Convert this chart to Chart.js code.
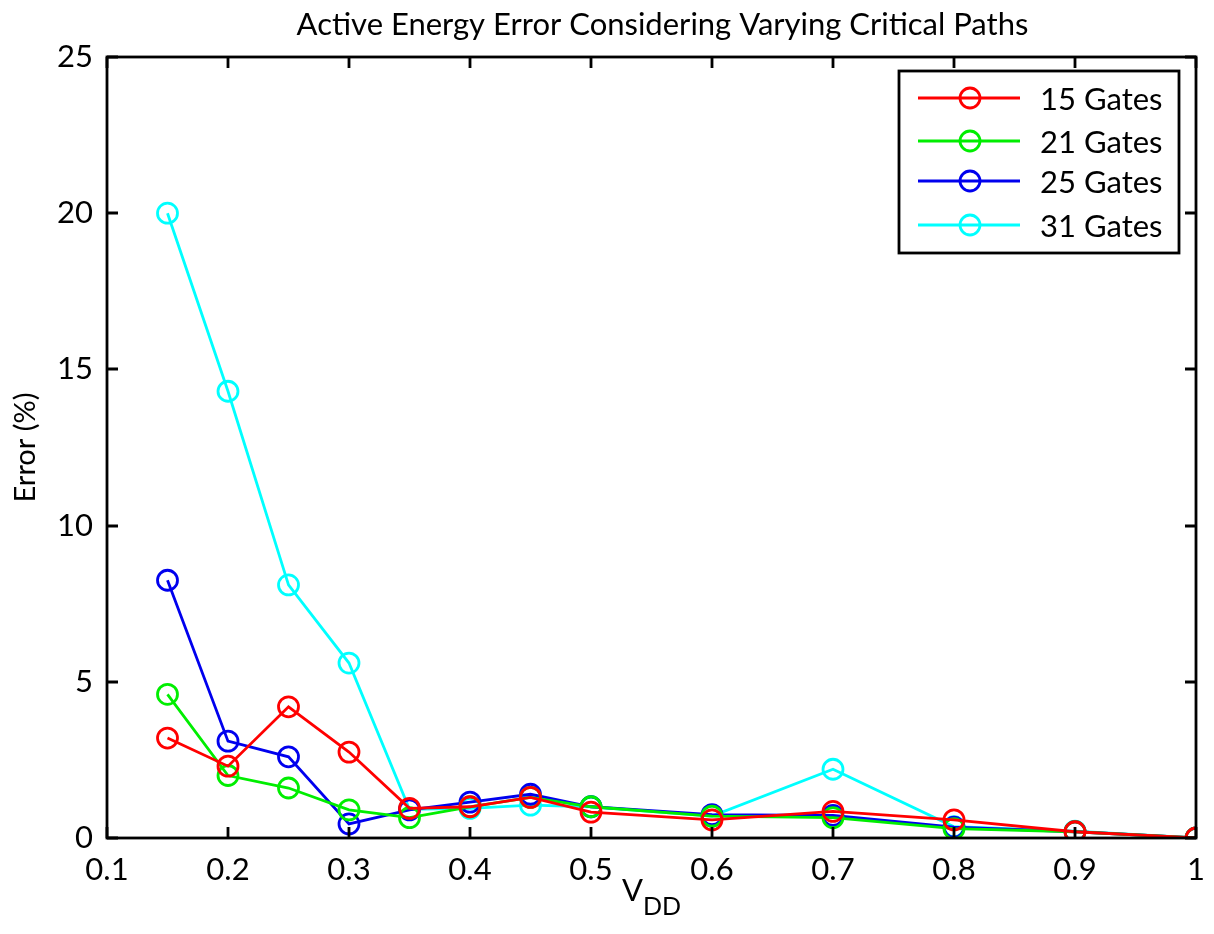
<!DOCTYPE html>
<html>
<head>
<meta charset="utf-8">
<script src="https://cdn.jsdelivr.net/npm/chart.js@4/dist/chart.umd.min.js"></script>
<style>
  html, body { margin: 0; padding: 0; background: #fff; }
  #wrap { width: 1214px; height: 934px; }
</style>
</head>
<body>
<div id="wrap"><canvas id="chart" width="1214" height="934"></canvas></div>
<script>
const vdd = [0.15, 0.2, 0.25, 0.3, 0.35, 0.4, 0.45, 0.5, 0.6, 0.7, 0.8, 0.9, 1.0];
const gates15 = [3.2, 2.3, 4.2, 2.75, 0.95, 1.0, 1.3, 0.83, 0.58, 0.85, 0.58, 0.2, 0];
const gates21 = [4.6, 2.0, 1.6, 0.9, 0.65, 1.0, 1.3, 1.0, 0.7, 0.65, 0.3, 0.2, 0];
const gates25 = [8.25, 3.1, 2.6, 0.45, 0.9, 1.15, 1.4, 1.0, 0.75, 0.72, 0.35, 0.2, 0];
const gates31 = [20.0, 14.3, 8.1, 5.6, 0.92, 0.95, 1.05, 1.0, 0.7, 2.2, 0.36, 0.22, 0];
const seriesNames = ['15 Gates', '21 Gates', '25 Gates', '31 Gates'];
const seriesColors = ['#ff0000', '#00ee00', '#0000ee', '#00ffff'];
const xTicks = { min: 0.1, max: 1, step: 0.1 };
const yTicks = { min: 0, max: 25, step: 5 };

const FONT = 'Lato, "Open Sans", sans-serif';

function pts(ys) { return vdd.map((x, i) => ({ x: x, y: ys[i] })); }

const datasets = [gates15, gates21, gates25, gates31].map((ys, i) => ({
  label: seriesNames[i],
  data: pts(ys),
  borderColor: seriesColors[i],
  backgroundColor: 'rgba(0,0,0,0)',
  borderWidth: 2.8,
  pointRadius: 10,
  pointHoverRadius: 10,
  pointBorderWidth: 2.8,
  pointBackgroundColor: 'rgba(0,0,0,0)',
  tension: 0
}));

// box, inward ticks, titles and legend in MATLAB style
const matlabFrame = {
  id: 'matlabFrame',
  afterDraw(chart) {
    const { ctx, chartArea: a, scales } = chart;
    const xs = scales.x, ys = scales.y;
    ctx.save();
    ctx.strokeStyle = '#000';
    ctx.lineWidth = 2.8;
    ctx.strokeRect(a.left, a.top, a.right - a.left, a.bottom - a.top);
    ctx.beginPath();
    xs.ticks.forEach(t => {
      const px = Math.round(xs.getPixelForValue(t.value));
      ctx.moveTo(px, a.bottom); ctx.lineTo(px, a.bottom - 11);
      ctx.moveTo(px, a.top); ctx.lineTo(px, a.top + 11);
    });
    ys.ticks.forEach(t => {
      const py = Math.round(ys.getPixelForValue(t.value));
      ctx.moveTo(a.left, py); ctx.lineTo(a.left + 11, py);
      ctx.moveTo(a.right, py); ctx.lineTo(a.right - 11, py);
    });
    ctx.stroke();

    ctx.fillStyle = '#000';
    ctx.textAlign = 'center';
    ctx.textBaseline = 'middle';
    ctx.font = '31px ' + FONT;
    ctx.fillText('Active Energy Error Considering Varying Critical Paths', (a.left + a.right) / 2 + 11, 25);

    // x axis title with subscript
    const cx = (a.left + a.right) / 2;
    ctx.font = '31px ' + FONT;
    const wV = ctx.measureText('V').width;
    ctx.font = '25px ' + FONT;
    const wDD = ctx.measureText('DD').width;
    const sx = cx - (wV + wDD) / 2;
    ctx.textAlign = 'left';
    ctx.font = '31px ' + FONT;
    ctx.fillText('V', sx, 891);
    ctx.font = '25px ' + FONT;
    ctx.fillText('DD', sx + wV, 907);

    // y axis title
    ctx.save();
    ctx.translate(26, (a.top + a.bottom) / 2);
    ctx.rotate(-Math.PI / 2);
    ctx.textAlign = 'center';
    ctx.font = '29px ' + FONT;
    ctx.fillText('Error (%)', 0, 0);
    ctx.restore();

    // legend
    const lx = 899, ly = 71, lw = 280, lh = 182;
    ctx.fillStyle = '#fff';
    ctx.fillRect(lx, ly, lw, lh);
    ctx.lineWidth = 2.8;
    ctx.strokeStyle = '#000';
    ctx.strokeRect(lx, ly, lw, lh);
    const rows = [98, 141, 181, 225];
    chart.data.datasets.forEach((d, i) => {
      const y = rows[i];
      ctx.strokeStyle = d.borderColor;
      ctx.lineWidth = 2.8;
      ctx.beginPath();
      ctx.moveTo(918, y); ctx.lineTo(1020, y);
      ctx.stroke();
      ctx.beginPath();
      ctx.arc(970, y, 10, 0, Math.PI * 2);
      ctx.stroke();
      ctx.fillStyle = '#000';
      ctx.textAlign = 'left';
      ctx.font = '31px ' + FONT;
      ctx.fillText(d.label, 1040, y + 2);
    });
    ctx.restore();
  }
};

new Chart(document.getElementById('chart'), {
  type: 'line',
  data: { datasets: datasets },
  options: {
    responsive: false,
    animation: false,
    layout: { padding: { top: 57, right: 18, left: 0, bottom: 0 } },
    plugins: { legend: { display: false }, title: { display: false }, tooltip: { enabled: false } },
    scales: {
      x: {
        type: 'linear',
        min: xTicks.min, max: xTicks.max,
        grid: { display: false },
        border: { display: false },
        ticks: {
          stepSize: xTicks.step,
          color: '#000',
          font: { family: FONT, size: 31 },
          padding: 5,
          maxRotation: 0,
          callback: v => String(+v.toFixed(1))
        },
        afterFit: s => { s.height = 96; }
      },
      y: {
        min: yTicks.min, max: yTicks.max,
        grid: { display: false },
        border: { display: false },
        ticks: {
          stepSize: yTicks.step,
          color: '#000',
          font: { family: FONT, size: 31 },
          padding: 6
        },
        afterFit: s => { s.width = 107; }
      }
    }
  },
  plugins: [matlabFrame]
});
</script>
</body>
</html>
